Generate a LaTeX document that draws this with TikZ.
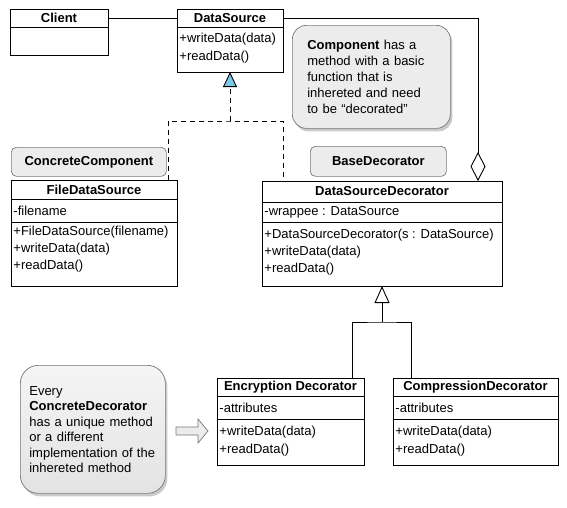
\documentclass[tikz,border=0pt]{standalone}
\usepackage{fontspec}
\setmainfont{Liberation Sans}
\usetikzlibrary{arrows.meta,shadows,positioning}

\definecolor{tipblue}{RGB}{125,200,230}
\definecolor{notegray}{RGB}{236,236,236}
\definecolor{noteline}{RGB}{120,120,120}

\tikzset{
  classbox/.style={draw, line width=0.9pt, anchor=north west, inner sep=0pt, outer sep=0pt},
  classhead/.style={classbox, font=\fontsize{13pt}{16pt}\bfseries},
  member/.style={anchor=west, inner sep=0pt},
  tag/.style={draw=noteline, fill=notegray, rounded corners=5pt, line width=0.7pt,
    anchor=north west, inner sep=0pt, font=\fontsize{13pt}{16pt}\bfseries},
  note/.style={draw=noteline, fill=notegray, line width=0.7pt, anchor=north west,
    align=left, inner ysep=0pt,
    drop shadow={shadow xshift=2pt, shadow yshift=-3pt, opacity=0.35, fill=black!60}},
  realize/.style={dash pattern=on 5pt off 4pt, line width=0.9pt},
}

\begin{document}
\begin{tikzpicture}[x=1pt, y=-1pt, line width=0.9pt, font=\fontsize{13pt}{16pt}\selectfont]
  \useasboundingbox (0,0) rectangle (567,507);

  % notes and tags
  \node[note, rounded corners=14pt, text width=128pt, inner xsep=15pt, minimum height=103pt]
    (component-note) at (292,25)
    {\textbf{Component} has a\\method with a basic\\function that is\\inhereted and need\\to be “decorated”};
  \node[note, rounded corners=18pt, text width=127pt, inner xsep=9pt, minimum height=128pt,
    top color=gray!8, bottom color=gray!22, font=\fontsize{13pt}{15.5pt}\selectfont]
    (decorator-note) at (20,365)
    {Every\\\textbf{ConcreteDecorator}\\has a unique method\\or a different\\implementation of the\\inhereted method};
  \node[tag, minimum width=155pt, minimum height=29pt] (component-tag) at (11,147) {ConcreteComponent};
  \node[tag, minimum width=136pt, minimum height=30pt] (base-tag) at (310,146) {BaseDecorator};
  \draw[draw=noteline, fill=notegray, line width=0.7pt]
    (176,427) -- (198,427) -- (198,419) -- (208,431) -- (198,443) -- (198,435) -- (176,435) -- cycle;

  % Client
  \node[classbox, minimum width=98pt, minimum height=46pt] (client) at (10,9) {};
  \node[classhead, minimum width=98pt, minimum height=18pt] (client-head) at (client.north west) {Client};

  % DataSource
  \node[classbox, minimum width=106pt, minimum height=63pt] (ds) at (177,9) {};
  \node[classhead, minimum width=106pt, minimum height=18pt] (ds-head) at (ds.north west) {DataSource};
  \node[member] (ds-m1) at (179,39) {+writeData(data)};
  \node[member] (ds-m2) at (179,57) {+readData()};

  % FileDataSource
  \node[classbox, minimum width=166pt, minimum height=106pt] (fds) at (11,180) {};
  \node[classhead, minimum width=166pt, minimum height=19pt] (fds-head) at (fds.north west) {FileDataSource};
  \draw ([yshift=-42pt]fds.north west) -- ([yshift=-42pt]fds.north east);
  \node[member] (fds-a1) at (13,211) {-filename};
  \node[member] (fds-m1) at (13,232) {+FileDataSource(filename)};
  \node[member] (fds-m2) at (13,249) {+writeData(data)};
  \node[member] (fds-m3) at (13,266) {+readData()};

  % DataSourceDecorator
  \node[classbox, minimum width=240pt, minimum height=105pt] (dsd) at (262,181) {};
  \node[classhead, minimum width=240pt, minimum height=21pt] (dsd-head) at (dsd.north west) {DataSourceDecorator};
  \draw ([yshift=-41pt]dsd.north west) -- ([yshift=-41pt]dsd.north east);
  \node[member] (dsd-a1) at (264,212) {-wrappee : DataSource};
  \node[member] (dsd-m1) at (264,235) {+DataSourceDecorator(s : DataSource)};
  \node[member] (dsd-m2) at (264,252) {+writeData(data)};
  \node[member] (dsd-m3) at (264,269) {+readData()};

  % Encryption Decorator
  \node[classbox, minimum width=147pt, minimum height=87pt] (enc) at (217,378) {};
  \node[classhead, minimum width=147pt, minimum height=18pt] (enc-head) at (enc.north west) {Encryption Decorator};
  \draw ([yshift=-41pt]enc.north west) -- ([yshift=-41pt]enc.north east);
  \node[member] (enc-a1) at (219,408) {-attributes};
  \node[member] (enc-m1) at (219,432) {+writeData(data)};
  \node[member] (enc-m2) at (219,450) {+readData()};

  % CompressionDecorator
  \node[classbox, minimum width=165pt, minimum height=87pt] (comp) at (393,378) {};
  \node[classhead, minimum width=165pt, minimum height=18pt] (comp-head) at (comp.north west) {CompressionDecorator};
  \draw ([yshift=-41pt]comp.north west) -- ([yshift=-41pt]comp.north east);
  \node[member] (comp-a1) at (395,408) {-attributes};
  \node[member] (comp-m1) at (395,432) {+writeData(data)};
  \node[member] (comp-m2) at (395,450) {+readData()};

  % association and aggregation
  \draw (client-head.east) -- (ds-head.west);
  \draw[{Diamond[open, length=29pt, width=15pt]}-] ([xshift=-24pt]dsd.north east) |- (ds-head.east);

  % realization
  \coordinate (real-join) at (230,121);
  \draw[realize] ([xshift=-9pt]fds.north east) |- (real-join) -| ([xshift=21pt]dsd.north west);
  \draw[realize, -{Triangle[length=15pt, width=14pt, fill=tipblue]}] (real-join) -- (ds.south);

  % generalization
  \coordinate (gen-join) at (382,322);
  \draw ([xshift=-12pt]enc.north east) |- (gen-join) -| ([xshift=18pt]comp.north west);
  \draw[-{Triangle[open, length=17pt, width=15pt]}] (gen-join) -- (dsd.south);
\end{tikzpicture}
\end{document}
